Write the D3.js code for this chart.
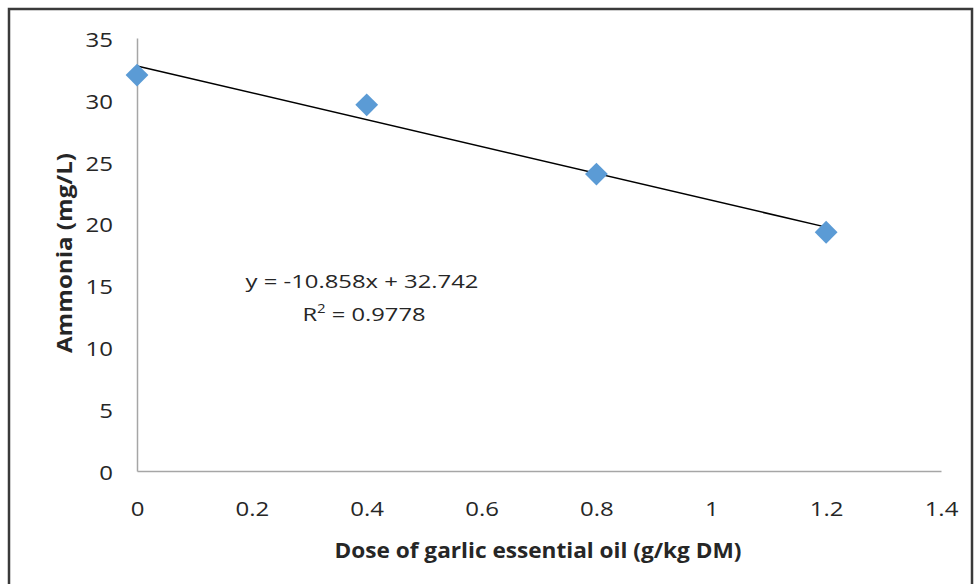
<!DOCTYPE html>
<html>
<head>
<meta charset="utf-8">
<script src="https://cdn.jsdelivr.net/npm/d3@7"></script>
<style>
  body { margin: 0; background: #fff; }
  svg text { font-family: "Open Sans", sans-serif; fill: #262626; }
</style>
</head>
<body>
<svg id="chart" width="974" height="584"></svg>
<script>
// data
const doses = [0, 0.4, 0.8, 1.2];
const ammonia = [32.0, 29.6, 24.0, 19.3];
const xTicks = [0, 0.2, 0.4, 0.6, 0.8, 1, 1.2, 1.4];
const yTicks = [0, 5, 10, 15, 20, 25, 30, 35];
// linear trendline as printed on the chart
const slope = -10.858;
const intercept = 32.742;
const rSquared = 0.9778;

const svg = d3.select('#chart');
const margin = { left: 137, top: 38, right: 33, bottom: 113 };
const width = 974, height = 584;
const stretch = 1.2; // the source text is wider than it is tall

// outer frame
svg.append('rect')
  .attr('x', 9).attr('y', 9)
  .attr('width', width - 11).attr('height', height)
  .attr('fill', 'none')
  .attr('stroke', '#3a3a3a')
  .attr('stroke-width', 2.5);

const xScale = d3.scaleLinear()
  .domain([0, 1.4])
  .range([margin.left, width - margin.right]);
const yScale = d3.scaleLinear()
  .domain([0, 35])
  .range([height - margin.bottom, margin.top]);

// axes, no tick marks, just the line and labels
const xAxis = d3.axisBottom(xScale)
  .tickValues(xTicks)
  .tickSize(0)
  .tickPadding(31)
  .tickFormat(d => String(+d.toFixed(1)));
const yAxis = d3.axisLeft(yScale)
  .tickValues(yTicks)
  .tickSize(0)
  .tickPadding(24);

const xAxisG = svg.append('g')
  .attr('transform', `translate(0,${yScale(0)})`)
  .call(xAxis);
const yAxisG = svg.append('g')
  .attr('transform', `translate(${xScale(0)},0)`)
  .call(yAxis);

[xAxisG, yAxisG].forEach(g => {
  g.select('.domain').attr('stroke', '#a6a6a6').attr('stroke-width', 1.5);
  g.selectAll('text')
    .attr('font-size', 20)
    .attr('font-family', '"Open Sans", sans-serif')
    .attr('fill', '#262626');
});
xAxisG.selectAll('.tick text').attr('transform', `scale(${stretch},1)`);
yAxisG.selectAll('.tick text')
  .attr('x', -24 / stretch)
  .attr('dy', '0.42em')
  .attr('transform', `scale(${stretch},1)`);

// trendline
const trend = xs => xs.map(x => [x, slope * x + intercept]);
svg.append('path')
  .datum(trend([0, 1.2]))
  .attr('fill', 'none')
  .attr('stroke', '#000')
  .attr('stroke-width', 1.5)
  .attr('d', d3.line().x(d => xScale(d[0])).y(d => yScale(d[1])));

// diamond markers
const diamond = d3.symbol().type(d3.symbolSquare).size(260);
svg.selectAll('.pt')
  .data(doses.map((d, i) => [d, ammonia[i]]))
  .enter().append('path')
  .attr('class', 'pt')
  .attr('d', diamond)
  .attr('fill', '#5b9bd5')
  .attr('transform', d => `translate(${xScale(d[0])},${yScale(d[1])}) rotate(45)`);

// stretch a text to the width it has in the source
const fit = (sel, w) => sel.attr('textLength', w).attr('lengthAdjust', 'spacingAndGlyphs');

// trendline equation
fit(svg.append('text')
  .attr('x', 362).attr('y', 288)
  .attr('text-anchor', 'middle')
  .attr('font-size', 19)
  .text(`y = ${slope}x + ${intercept}`), 233);
const r2 = svg.append('text')
  .attr('x', 364).attr('y', 321)
  .attr('text-anchor', 'middle')
  .attr('font-size', 19);
r2.append('tspan').text('R');
r2.append('tspan').attr('font-size', 12).attr('dy', -8).text('2');
r2.append('tspan').attr('dy', 8).text(` = ${rSquared}`);
fit(r2, 123);

// axis titles
fit(svg.append('text')
  .attr('x', 538).attr('y', 558)
  .attr('text-anchor', 'middle')
  .attr('font-size', 22)
  .attr('font-weight', 'bold')
  .text('Dose of garlic essential oil (g/kg DM)'), 407);
fit(svg.append('text')
  .attr('transform', 'translate(72,253) rotate(-90)')
  .attr('text-anchor', 'middle')
  .attr('font-size', 22)
  .attr('font-weight', 'bold')
  .text('Ammonia (mg/L)'), 200);
</script>
</body>
</html>
